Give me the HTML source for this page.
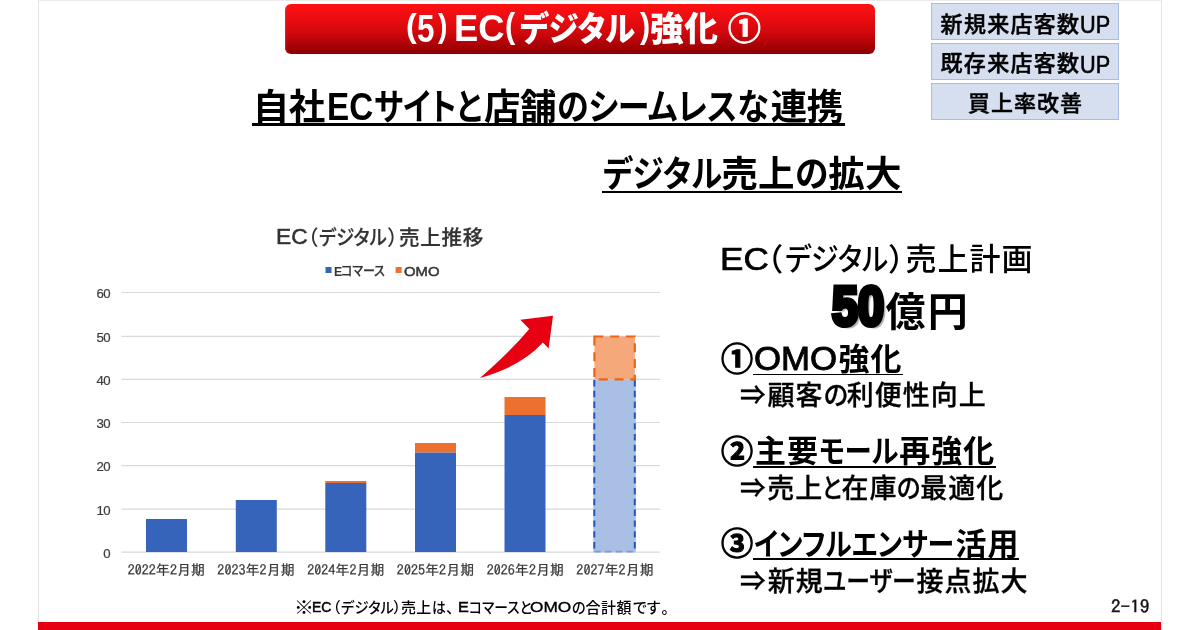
<!DOCTYPE html>
<html lang="ja">
<head>
<meta charset="utf-8">
<title>(5) EC(デジタル)強化 ①</title>
<style>
html,body{margin:0;padding:0;}
body{width:1200px;height:630px;background:#fff;overflow:hidden;position:relative;
  font-family:"Liberation Sans","Noto Sans CJK JP",sans-serif;color:#000;}
.t{position:absolute;white-space:nowrap;line-height:1;display:block;}
#slide{position:absolute;left:38px;top:0;width:1124px;height:630px;box-sizing:border-box;
  border-left:1px solid #e2e2e2;border-right:1px solid #e2e2e2;border-top:1px solid #ebebeb;background:#fff;}
#bottombar{position:absolute;left:38px;top:622px;width:1123px;height:8px;background:#e60012;}
#banner{position:absolute;left:285px;top:4px;width:590px;height:50px;border-radius:6px;
  background:linear-gradient(180deg,#ff1111 0%,#f00d11 22%,#d4080d 55%,#aa0207 82%,#8a0000 100%);box-shadow:inset 2px 0 2px -1px rgba(255,60,60,.55);}
.tag{position:absolute;left:931px;width:188px;height:36.4px;box-sizing:border-box;background:#d5dff0;border:1px solid #a9bde3;}
.ln{margin:0;padding:0;font-size:0;font-weight:normal;line-height:0;}
.ul{position:absolute;height:1.9px;background:#000;}
#chart{position:absolute;left:0;top:0;}
</style>
</head>
<body>
<div id="slide"></div>
<div id="bottombar"></div>
<div id="banner"></div>
<div class="tag" style="top:3.4px;"></div>
<div class="tag" style="top:43.4px;"></div>
<div class="tag" style="top:83.4px;"></div>

<div class="ul" style="left:252px;top:123.4px;width:593px;height:2.2px;"></div>
<div class="ul" style="left:602px;top:190.8px;width:300.3px;height:2.1px;"></div>
<div class="ul" style="left:753.2px;top:373.6px;width:149.8px;"></div>
<div class="ul" style="left:753.3px;top:465.7px;width:243px;"></div>
<div class="ul" style="left:753.3px;top:558px;width:265.7px;"></div>

<svg id="chart" width="1200" height="630" viewBox="0 0 1200 630">
  <g stroke="#d9d9d9" stroke-width="1.2" fill="none">
    <line x1="121.5" y1="292.5" x2="659.7" y2="292.5"/>
    <line x1="121.5" y1="336.3" x2="659.7" y2="336.3"/>
    <line x1="121.5" y1="379.3" x2="659.7" y2="379.3"/>
    <line x1="121.5" y1="422.5" x2="659.7" y2="422.5"/>
    <line x1="121.5" y1="465.7" x2="659.7" y2="465.7"/>
    <line x1="121.5" y1="509.1" x2="659.7" y2="509.1"/>
    <line x1="121.5" y1="552.2" x2="659.7" y2="552.2"/>
  </g>
  <g>
    <rect x="146" y="519" width="41" height="33" fill="#3564ba"/>
    <rect x="235.8" y="500" width="41" height="52" fill="#3564ba"/>
    <rect x="325.3" y="483" width="41" height="69" fill="#3564ba"/>
    <rect x="325.3" y="481" width="41" height="2" fill="#ee7030"/>
    <rect x="415" y="452.4" width="41" height="99.6" fill="#3564ba"/>
    <rect x="415" y="443" width="41" height="9.4" fill="#ee7030"/>
    <rect x="504.5" y="415" width="41" height="137" fill="#3564ba"/>
    <rect x="504.5" y="397" width="41" height="18" fill="#ee7030"/>
    <rect x="593.3" y="379.3" width="42.5" height="173" fill="#a9bfe4"/>
    <path d="M594.3,380 V551.2 M634.8,380 V551.2" fill="none" stroke="#2357bf" stroke-width="2" stroke-dasharray="6.4 4.4"/>
    <path d="M594.3,551.6 H634.8" fill="none" stroke="#7f9ad6" stroke-width="1.6" stroke-dasharray="6.4 4.4"/>
    <rect x="594.4" y="336.5" width="40.4" height="42.8" fill="#f5a87a" stroke="#ef6414" stroke-width="2.2" stroke-dasharray="9 6.75"/>
  </g>
  <path d="M480,378 Q510,352 529.3,329 L520.3,319.7 L553,315.7 L548.6,348.6 L542.9,342.6 Q522,366 480,378 Z" fill="#e60012"/>
  <rect x="325.5" y="267" width="6" height="6" fill="#3564ba"/>
  <rect x="395.6" y="267" width="6" height="6" fill="#ee7030"/>
  <g font-family="'Liberation Sans','Noto Sans CJK JP',sans-serif" font-size="13.2" letter-spacing="-0.5" fill="#3c3c3c" stroke="#3c3c3c" stroke-width="0.2">
    <text x="110.2" y="298.2" text-anchor="end">60</text>
    <text x="110.2" y="342.0" text-anchor="end">50</text>
    <text x="110.2" y="385.0" text-anchor="end">40</text>
    <text x="110.2" y="428.2" text-anchor="end">30</text>
    <text x="110.2" y="471.4" text-anchor="end">20</text>
    <text x="110.2" y="514.8" text-anchor="end">10</text>
    <text x="110.2" y="557.9" text-anchor="end">0</text>
  </g>
  <g font-family="'IPAGothic','Noto Sans CJK JP',sans-serif" font-size="14.1" fill="#383838" stroke="#383838" stroke-width="0.25" text-anchor="middle">
    <text x="166.4" y="575">2022年2月期</text>
    <text x="256.1" y="575">2023年2月期</text>
    <text x="345.9" y="575">2024年2月期</text>
    <text x="435.6" y="575">2025年2月期</text>
    <text x="525.4" y="575">2026年2月期</text>
    <text x="615.1" y="575">2027年2月期</text>
  </g>
</svg>
<h1 class="ln title"><span class="t" id="b_q1" style="left:406.00px;top:8.00px;color:#fff;font-family:'Liberation Sans','Noto Sans CJK JP',sans-serif;font-size:34.00px;font-weight:700;transform:scale(0.9479,1.0000);transform-origin:0 0;">(</span><span class="t" id="b_5" style="left:417.00px;top:10.00px;color:#fff;font-family:'Liberation Sans','Noto Sans CJK JP',sans-serif;font-size:38.24px;font-weight:700;transform:scale(0.8199,1.0000);transform-origin:0 0;">5</span><span class="t" id="b_q2" style="left:438.00px;top:8.00px;color:#fff;font-family:'Liberation Sans','Noto Sans CJK JP',sans-serif;font-size:34.00px;font-weight:700;transform:scale(0.8311,1.0000);transform-origin:0 0;">)</span><span class="t" id="b_EC" style="left:454.00px;top:10.00px;color:#fff;font-family:'Liberation Sans','Noto Sans CJK JP',sans-serif;font-size:37.01px;font-weight:700;transform:scale(0.9823,1.0000);transform-origin:0 0;">EC</span><span class="t" id="b_p1" style="left:505.00px;top:9.00px;color:#fff;font-family:'Liberation Sans','Noto Sans CJK JP',sans-serif;font-size:34.91px;font-weight:700;transform:scale(0.8784,1.0000);transform-origin:0 0;">(</span><span class="t" id="b_kana" style="left:520.00px;top:13.00px;color:#fff;font-family:'Liberation Sans','Noto Sans CJK JP',sans-serif;font-size:33.70px;font-weight:900;font-feature-settings:'palt' 1;transform:scale(0.9002,1.0000);transform-origin:0 0;">デジタル</span><span class="t" id="b_p2" style="left:640.00px;top:9.00px;color:#fff;font-family:'Liberation Sans','Noto Sans CJK JP',sans-serif;font-size:34.91px;font-weight:700;transform:scale(0.8722,1.0000);transform-origin:0 0;">)</span><span class="t" id="b_k" style="left:650.06px;top:13.00px;color:#fff;font-family:'Liberation Sans','Noto Sans CJK JP',sans-serif;font-size:33.70px;font-weight:900;letter-spacing:0.50px;">強化</span><span class="t" id="b_c" style="left:728.00px;top:13.00px;color:#fff;font-family:'Liberation Sans','Noto Sans CJK JP',sans-serif;font-size:32.13px;font-weight:700;-webkit-text-stroke:0.9px currentColor;transform:scale(1.0229,1.0000);transform-origin:0 0;">①</span></h1>
<div class="ln tagtext"><span class="t" id="t1" style="left:940.59px;top:14.00px;color:#000;font-family:'Liberation Sans','Noto Sans CJK JP',sans-serif;font-size:22.00px;font-weight:500;letter-spacing:1.30px;-webkit-text-stroke:0.45px currentColor;">新規来店客数</span><span class="t" id="t1u" style="left:1080.00px;top:13.00px;color:#000;font-family:'Liberation Sans','Noto Sans CJK JP',sans-serif;font-size:24.04px;font-weight:400;-webkit-text-stroke:0.6px currentColor;transform:scale(0.9010,1.0000);transform-origin:0 0;">UP</span></div>
<div class="ln tagtext"><span class="t" id="t2" style="left:940.57px;top:53.00px;color:#000;font-family:'Liberation Sans','Noto Sans CJK JP',sans-serif;font-size:22.00px;font-weight:500;letter-spacing:1.30px;-webkit-text-stroke:0.45px currentColor;">既存来店客数</span><span class="t" id="t2u" style="left:1080.00px;top:53.00px;color:#000;font-family:'Liberation Sans','Noto Sans CJK JP',sans-serif;font-size:24.04px;font-weight:400;-webkit-text-stroke:0.6px currentColor;transform:scale(0.9010,1.0000);transform-origin:0 0;">UP</span></div>
<div class="ln tagtext"><span class="t" id="t3" style="left:968.11px;top:93.00px;color:#000;font-family:'Liberation Sans','Noto Sans CJK JP',sans-serif;font-size:22.00px;font-weight:500;letter-spacing:1.00px;-webkit-text-stroke:0.45px currentColor;">買上率改善</span></div>
<h2 class="ln lead"><span class="t" id="h1a" style="left:252.77px;top:90.00px;color:#000;font-family:'Liberation Sans','Noto Sans CJK JP',sans-serif;font-size:36.50px;font-weight:700;letter-spacing:-0.50px;">自社</span><span class="t" id="h1b" style="left:327.00px;top:88.00px;color:#000;font-family:'Liberation Sans','Noto Sans CJK JP',sans-serif;font-size:38.02px;font-weight:700;transform:scale(0.8740,1.0000);transform-origin:0 0;">EC</span><span class="t" id="h1c" style="left:374.00px;top:90.00px;color:#000;font-family:'Liberation Sans','Noto Sans CJK JP',sans-serif;font-size:36.50px;font-weight:700;font-feature-settings:'palt' 1;transform:scale(0.8386,1.0000);transform-origin:0 0;">サイトと</span><span class="t" id="h1d" style="left:484.00px;top:90.00px;color:#000;font-family:'Liberation Sans','Noto Sans CJK JP',sans-serif;font-size:36.50px;font-weight:700;letter-spacing:-0.50px;">店舗</span><span class="t" id="h1e" style="left:557.00px;top:90.00px;color:#000;font-family:'Liberation Sans','Noto Sans CJK JP',sans-serif;font-size:36.50px;font-weight:700;font-feature-settings:'palt' 1;transform:scale(0.8759,1.0000);transform-origin:0 0;">のシームレスな</span><span class="t" id="h1f" style="left:770.85px;top:90.00px;color:#000;font-family:'Liberation Sans','Noto Sans CJK JP',sans-serif;font-size:36.50px;font-weight:700;letter-spacing:-0.50px;">連携</span></h2>
<h2 class="ln lead"><span class="t" id="h2a" style="left:603.00px;top:157.00px;color:#000;font-family:'Liberation Sans','Noto Sans CJK JP',sans-serif;font-size:36.50px;font-weight:700;font-feature-settings:'palt' 1;transform:scale(0.8612,1.0000);transform-origin:0 0;">デジタル</span><span class="t" id="h2b" style="left:721.16px;top:157.00px;color:#000;font-family:'Liberation Sans','Noto Sans CJK JP',sans-serif;font-size:36.50px;font-weight:700;letter-spacing:0.30px;">売上</span><span class="t" id="h2c" style="left:795.00px;top:157.00px;color:#000;font-family:'Liberation Sans','Noto Sans CJK JP',sans-serif;font-size:36.50px;font-weight:700;font-feature-settings:'palt' 1;transform:scale(0.9233,1.0000);transform-origin:0 0;">の</span><span class="t" id="h2d" style="left:828.18px;top:157.00px;color:#000;font-family:'Liberation Sans','Noto Sans CJK JP',sans-serif;font-size:36.50px;font-weight:700;letter-spacing:0.30px;">拡大</span></h2>
<div class="ln chart-title"><span class="t" id="c2" style="left:276.00px;top:227.00px;color:#333;font-family:'Liberation Sans','Noto Sans CJK JP',sans-serif;font-size:21.27px;font-weight:400;-webkit-text-stroke:0.5px currentColor;transform:scale(1.0696,1.0000);transform-origin:0 0;">EC</span><span class="t" id="c3a" style="left:307.44px;top:228.00px;color:#333;font-family:'Liberation Sans','Noto Sans CJK JP',sans-serif;font-size:20.60px;font-weight:500;font-feature-settings:'palt' 1;">（</span><span class="t" id="c3" style="left:319.00px;top:228.00px;color:#333;font-family:'Liberation Sans','Noto Sans CJK JP',sans-serif;font-size:20.60px;font-weight:500;font-feature-settings:'palt' 1;-webkit-text-stroke:0.25px currentColor;transform:scale(0.8871,1.0000);transform-origin:0 0;">デジタル</span><span class="t" id="c3b" style="left:387.84px;top:228.00px;color:#333;font-family:'Liberation Sans','Noto Sans CJK JP',sans-serif;font-size:20.60px;font-weight:500;font-feature-settings:'palt' 1;">）</span><span class="t" id="c1" style="left:398.95px;top:228.00px;color:#333;font-family:'Liberation Sans','Noto Sans CJK JP',sans-serif;font-size:20.60px;font-weight:500;letter-spacing:0.70px;-webkit-text-stroke:0.25px currentColor;">売上推移</span></div>
<div class="ln legend"><span class="t" id="l1a" style="left:334.00px;top:266.00px;color:#333;font-family:'Liberation Sans','Noto Sans CJK JP',sans-serif;font-size:12.50px;font-weight:700;transform:scale(0.9842,1.0000);transform-origin:0 0;">E</span><span class="t" id="l1" style="left:341.00px;top:265.00px;color:#333;font-family:'Liberation Sans','Noto Sans CJK JP',sans-serif;font-size:12.80px;font-weight:500;font-feature-settings:'palt' 1;-webkit-text-stroke:0.25px currentColor;transform:scale(0.9315,1.0000);transform-origin:0 0;">コマース</span></div>
<div class="ln legend"><span class="t" id="l2" style="left:404.00px;top:266.00px;color:#333;font-family:'Liberation Sans','Noto Sans CJK JP',sans-serif;font-size:12.50px;font-weight:400;-webkit-text-stroke:0.45px currentColor;transform:scale(1.1881,1.0000);transform-origin:0 0;">OMO</span></div>
<p class="ln note"><span class="t" id="f1" style="left:294.00px;top:599.00px;color:#000;font-family:'Liberation Sans','Noto Sans CJK JP',sans-serif;font-size:18.46px;font-weight:700;transform:scale(1.0839,1.0000);transform-origin:0 0;">※</span><span class="t" id="f2" style="left:312.00px;top:599.00px;color:#000;font-family:'Liberation Sans','Noto Sans CJK JP',sans-serif;font-size:15.28px;font-weight:400;-webkit-text-stroke:0.5px currentColor;transform:scale(0.9167,1.0000);transform-origin:0 0;">EC</span><span class="t" id="f3a" style="left:332.75px;top:600.00px;color:#000;font-family:'Liberation Sans','Noto Sans CJK JP',sans-serif;font-size:15.00px;font-weight:500;font-feature-settings:'palt' 1;">（</span><span class="t" id="f3" style="left:341.00px;top:600.00px;color:#000;font-family:'Liberation Sans','Noto Sans CJK JP',sans-serif;font-size:15.00px;font-weight:500;font-feature-settings:'palt' 1;transform:scale(0.9523,1.0000);transform-origin:0 0;">デジタル</span><span class="t" id="f3b" style="left:393.50px;top:600.00px;color:#000;font-family:'Liberation Sans','Noto Sans CJK JP',sans-serif;font-size:15.00px;font-weight:500;font-feature-settings:'palt' 1;">）</span><span class="t" id="f4" style="left:400.92px;top:600.00px;color:#000;font-family:'Liberation Sans','Noto Sans CJK JP',sans-serif;font-size:15.00px;font-weight:500;letter-spacing:0.40px;">売上</span><span class="t" id="f5" style="left:432.00px;top:600.00px;color:#000;font-family:'Liberation Sans','Noto Sans CJK JP',sans-serif;font-size:15.00px;font-weight:500;font-feature-settings:'palt' 1;transform:scale(0.9272,1.0000);transform-origin:0 0;">は</span><span class="t" id="f5b" style="left:446.14px;top:600.00px;color:#000;font-family:'Liberation Sans','Noto Sans CJK JP',sans-serif;font-size:15.00px;font-weight:500;font-feature-settings:'palt' 1;">、</span><span class="t" id="f6" style="left:458.00px;top:599.00px;color:#000;font-family:'Liberation Sans','Noto Sans CJK JP',sans-serif;font-size:15.28px;font-weight:400;-webkit-text-stroke:0.6px currentColor;transform:scale(1.0572,1.0000);transform-origin:0 0;">E</span><span class="t" id="f7" style="left:469.00px;top:600.00px;color:#000;font-family:'Liberation Sans','Noto Sans CJK JP',sans-serif;font-size:15.00px;font-weight:500;font-feature-settings:'palt' 1;transform:scale(0.9186,1.0000);transform-origin:0 0;">コマースと</span><span class="t" id="f8" style="left:530.00px;top:599.00px;color:#000;font-family:'Liberation Sans','Noto Sans CJK JP',sans-serif;font-size:15.28px;font-weight:400;-webkit-text-stroke:0.35px currentColor;transform:scale(1.1301,1.0000);transform-origin:0 0;">OMO</span><span class="t" id="f9" style="left:572.00px;top:600.00px;color:#000;font-family:'Liberation Sans','Noto Sans CJK JP',sans-serif;font-size:15.00px;font-weight:500;font-feature-settings:'palt' 1;transform:scale(0.9434,1.0000);transform-origin:0 0;">の</span><span class="t" id="f10" style="left:585.61px;top:600.00px;color:#000;font-family:'Liberation Sans','Noto Sans CJK JP',sans-serif;font-size:15.00px;font-weight:500;letter-spacing:0.40px;">合計額</span><span class="t" id="f11" style="left:633.00px;top:600.00px;color:#000;font-family:'Liberation Sans','Noto Sans CJK JP',sans-serif;font-size:15.00px;font-weight:500;font-feature-settings:'palt' 1;transform:scale(0.9919,1.0000);transform-origin:0 0;">です</span><span class="t" id="f12" style="left:661.31px;top:600.00px;color:#000;font-family:'Liberation Sans','Noto Sans CJK JP',sans-serif;font-size:15.00px;font-weight:500;font-feature-settings:'palt' 1;">。</span></p>
<div class="ln pageno"><span class="t" id="pg" style="left:1111.00px;top:598.00px;color:#111;font-family:'IPAGothic','Liberation Mono',monospace;font-size:17.82px;font-weight:400;-webkit-text-stroke:0.4px currentColor;transform:scale(1.0748,1.0000);transform-origin:0 0;">2-19</span></div>
<h3 class="ln plan"><span class="t" id="r2" style="left:720.00px;top:244.00px;color:#000;font-family:'Liberation Sans','Noto Sans CJK JP',sans-serif;font-size:31.90px;font-weight:500;-webkit-text-stroke:0.7px currentColor;transform:scale(1.0998,1.0000);transform-origin:0 0;">EC</span><span class="t" id="r3a" style="left:766.67px;top:244.00px;color:#000;font-family:'Liberation Sans','Noto Sans CJK JP',sans-serif;font-size:31.00px;font-weight:500;font-feature-settings:'palt' 1;">（</span><span class="t" id="r3" style="left:785.00px;top:244.00px;color:#000;font-family:'Liberation Sans','Noto Sans CJK JP',sans-serif;font-size:31.00px;font-weight:500;font-feature-settings:'palt' 1;transform:scale(0.8974,1.0000);transform-origin:0 0;">デジタル</span><span class="t" id="r3b" style="left:889.00px;top:244.00px;color:#000;font-family:'Liberation Sans','Noto Sans CJK JP',sans-serif;font-size:31.00px;font-weight:500;font-feature-settings:'palt' 1;">）</span><span class="t" id="r1" style="left:905.51px;top:244.00px;color:#000;font-family:'Liberation Sans','Noto Sans CJK JP',sans-serif;font-size:31.00px;font-weight:500;letter-spacing:1.00px;">売上計画</span></h3>
<div class="ln amount"><span class="t" id="fifty" style="left:832.00px;top:279.00px;color:#000;font-family:'Liberation Sans','Noto Sans CJK JP',sans-serif;font-size:55.17px;font-weight:700;-webkit-text-stroke:5px currentColor;transform:scale(0.8488,1.0000);transform-origin:0 0;text-shadow:3.9px 3.3px 1.2px rgba(0,0,0,.32);">50</span><span class="t" id="oku" style="left:885.51px;top:292.00px;color:#000;font-family:'Liberation Sans','Noto Sans CJK JP',sans-serif;font-size:40.00px;font-weight:700;letter-spacing:2.33px;">億円</span></div>
<div class="ln item"><span class="t" id="i1n" style="left:721.00px;top:344.00px;color:#000;font-family:'Liberation Sans','Noto Sans CJK JP',sans-serif;font-size:32.48px;font-weight:700;-webkit-text-stroke:1.1px currentColor;transform:scale(0.9895,1.0000);transform-origin:0 0;">①</span><span class="t" id="i1a" style="left:754.00px;top:343.00px;color:#000;font-family:'Liberation Sans','Noto Sans CJK JP',sans-serif;font-size:32.31px;font-weight:400;-webkit-text-stroke:0.9px currentColor;transform:scale(1.0777,1.0000);transform-origin:0 0;">OMO</span><span class="t" id="i1b" style="left:838.45px;top:344.00px;color:#000;font-family:'Liberation Sans','Noto Sans CJK JP',sans-serif;font-size:31.00px;font-weight:700;letter-spacing:1.00px;">強化</span></div>
<div class="ln sub"><span class="t" id="s1a" style="left:740.00px;top:383.00px;color:#000;font-family:'Liberation Sans','Noto Sans CJK JP',sans-serif;font-size:27.00px;font-weight:500;-webkit-text-stroke:0.3px currentColor;transform:scale(0.9488,1.0000);transform-origin:0 0;">⇒</span><span class="t" id="s1b" style="left:767.43px;top:383.00px;color:#000;font-family:'Liberation Sans','Noto Sans CJK JP',sans-serif;font-size:27.00px;font-weight:500;letter-spacing:1.00px;-webkit-text-stroke:0.3px currentColor;">顧客</span><span class="t" id="s1c" style="left:824.00px;top:383.00px;color:#000;font-family:'Liberation Sans','Noto Sans CJK JP',sans-serif;font-size:27.00px;font-weight:500;font-feature-settings:'palt' 1;-webkit-text-stroke:0.3px currentColor;transform:scale(0.9289,1.0000);transform-origin:0 0;">の</span><span class="t" id="s1d" style="left:846.81px;top:383.00px;color:#000;font-family:'Liberation Sans','Noto Sans CJK JP',sans-serif;font-size:27.00px;font-weight:500;letter-spacing:1.00px;-webkit-text-stroke:0.3px currentColor;">利便性向上</span></div>
<div class="ln item"><span class="t" id="i2n" style="left:721.00px;top:436.00px;color:#000;font-family:'Liberation Sans','Noto Sans CJK JP',sans-serif;font-size:32.07px;font-weight:700;-webkit-text-stroke:1.1px currentColor;transform:scale(1.0023,1.0000);transform-origin:0 0;">②</span><span class="t" id="i2a" style="left:754.97px;top:436.00px;color:#000;font-family:'Liberation Sans','Noto Sans CJK JP',sans-serif;font-size:31.00px;font-weight:700;letter-spacing:1.00px;">主要</span><span class="t" id="i2b" style="left:819.00px;top:436.00px;color:#000;font-family:'Liberation Sans','Noto Sans CJK JP',sans-serif;font-size:31.00px;font-weight:700;font-feature-settings:'palt' 1;transform:scale(0.8847,1.0000);transform-origin:0 0;">モール</span><span class="t" id="i2c" style="left:899.20px;top:436.00px;color:#000;font-family:'Liberation Sans','Noto Sans CJK JP',sans-serif;font-size:31.00px;font-weight:700;letter-spacing:1.00px;">再強化</span></div>
<div class="ln sub"><span class="t" id="s2a" style="left:740.00px;top:476.00px;color:#000;font-family:'Liberation Sans','Noto Sans CJK JP',sans-serif;font-size:27.00px;font-weight:500;-webkit-text-stroke:0.3px currentColor;transform:scale(0.9488,1.0000);transform-origin:0 0;">⇒</span><span class="t" id="s2b" style="left:767.18px;top:476.00px;color:#000;font-family:'Liberation Sans','Noto Sans CJK JP',sans-serif;font-size:27.00px;font-weight:500;letter-spacing:1.00px;-webkit-text-stroke:0.3px currentColor;">売上</span><span class="t" id="s2c" style="left:822.00px;top:476.00px;color:#000;font-family:'Liberation Sans','Noto Sans CJK JP',sans-serif;font-size:27.00px;font-weight:500;font-feature-settings:'palt' 1;-webkit-text-stroke:0.3px currentColor;transform:scale(0.8281,1.0000);transform-origin:0 0;">と</span><span class="t" id="s2d" style="left:841.45px;top:476.00px;color:#000;font-family:'Liberation Sans','Noto Sans CJK JP',sans-serif;font-size:27.00px;font-weight:500;letter-spacing:1.00px;-webkit-text-stroke:0.3px currentColor;">在庫</span><span class="t" id="s2e" style="left:897.00px;top:476.00px;color:#000;font-family:'Liberation Sans','Noto Sans CJK JP',sans-serif;font-size:27.00px;font-weight:500;font-feature-settings:'palt' 1;-webkit-text-stroke:0.3px currentColor;transform:scale(0.9072,1.0000);transform-origin:0 0;">の</span><span class="t" id="s2f" style="left:920.17px;top:476.00px;color:#000;font-family:'Liberation Sans','Noto Sans CJK JP',sans-serif;font-size:27.00px;font-weight:500;letter-spacing:1.00px;-webkit-text-stroke:0.3px currentColor;">最適化</span></div>
<div class="ln item"><span class="t" id="i3n" style="left:721.00px;top:528.00px;color:#000;font-family:'Liberation Sans','Noto Sans CJK JP',sans-serif;font-size:32.07px;font-weight:700;-webkit-text-stroke:1.1px currentColor;transform:scale(1.0026,1.0000);transform-origin:0 0;">③</span><span class="t" id="i3a" style="left:754.00px;top:529.00px;color:#000;font-family:'Liberation Sans','Noto Sans CJK JP',sans-serif;font-size:31.00px;font-weight:700;font-feature-settings:'palt' 1;transform:scale(0.8677,1.0000);transform-origin:0 0;">インフルエンサー</span><span class="t" id="i3b" style="left:955.52px;top:529.00px;color:#000;font-family:'Liberation Sans','Noto Sans CJK JP',sans-serif;font-size:31.00px;font-weight:700;letter-spacing:1.00px;">活用</span></div>
<div class="ln sub"><span class="t" id="s3a" style="left:740.00px;top:569.00px;color:#000;font-family:'Liberation Sans','Noto Sans CJK JP',sans-serif;font-size:27.00px;font-weight:500;-webkit-text-stroke:0.3px currentColor;transform:scale(0.9488,1.0000);transform-origin:0 0;">⇒</span><span class="t" id="s3b" style="left:767.86px;top:569.00px;color:#000;font-family:'Liberation Sans','Noto Sans CJK JP',sans-serif;font-size:27.00px;font-weight:500;letter-spacing:1.00px;-webkit-text-stroke:0.3px currentColor;">新規</span><span class="t" id="s3c" style="left:823.00px;top:569.00px;color:#000;font-family:'Liberation Sans','Noto Sans CJK JP',sans-serif;font-size:27.00px;font-weight:500;font-feature-settings:'palt' 1;-webkit-text-stroke:0.3px currentColor;transform:scale(0.8846,1.0000);transform-origin:0 0;">ユーザー</span><span class="t" id="s3d" style="left:916.53px;top:569.00px;color:#000;font-family:'Liberation Sans','Noto Sans CJK JP',sans-serif;font-size:27.00px;font-weight:500;letter-spacing:1.00px;-webkit-text-stroke:0.3px currentColor;">接点拡大</span></div>
</body>
</html>
